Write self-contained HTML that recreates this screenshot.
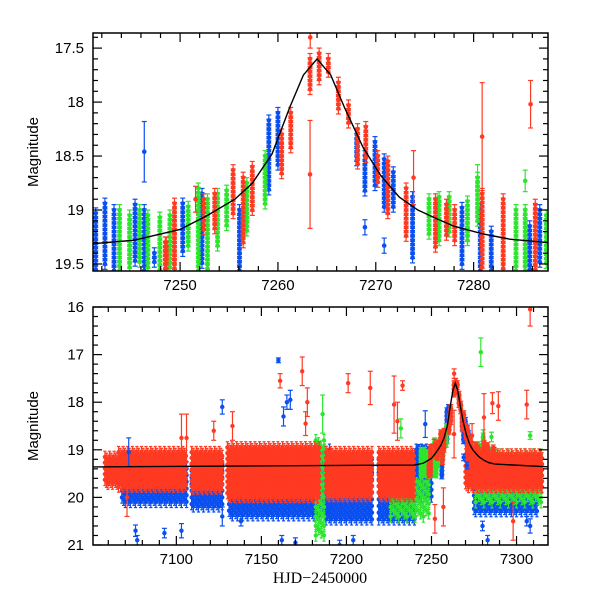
<!DOCTYPE html>
<html><head><meta charset="utf-8"><style>
html,body{margin:0;padding:0;background:#fff;}
svg{display:block;font-family:"Liberation Sans",sans-serif;}
</style></head><body>
<svg id="chart" width="600" height="600" viewBox="0 0 600 600">
<g id="top"></g>
<g id="bot"></g>
<text x="320" y="583" text-anchor="middle" font-family="Liberation Serif, serif" font-size="16">HJD−2450000</text>
</svg>
<script>
// ---- data: nightly columns (day, brightest mag, faintest mag) ----
const blueDay   = [7241.38,7242.32,7243.25,7245.4,7246.34,7247.37,7250.27,7252.24,7256.07,7259.07,7260.0,7268.05,7268.89,7269.92,7270.86,7271.79,7273.76,7278.81,7280.68,7281.8,7285.73,7286.76];
const blueHi    = [19.03,18.94,19.0,18.95,19.0,19.4,18.94,18.85,19.0,18.17,18.1,18.3,18.5,18.37,18.53,18.65,18.88,18.98,19.0,19.2,19.15,19.0];
const blueLo    = [19.56,19.52,19.56,19.5,19.56,19.5,19.4,19.5,19.56,18.84,18.6,18.55,18.84,18.78,19.0,19.0,19.45,19.5,19.56,19.56,19.56,19.5];
const greenDay  = [7243.81,7244.84,7245.87,7246.71,7247.93,7248.96,7250.83,7251.86,7252.8,7253.83,7254.76,7256.82,7258.69,7275.44,7276.47,7277.5,7279.37,7280.4,7284.33,7285.27,7287.42];
const greenHi   = [19.0,19.05,19.0,19.05,19.07,19.05,18.97,18.8,18.9,18.85,18.82,18.75,18.5,18.9,18.88,18.88,18.92,18.7,19.0,19.0,19.05];
const greenLo   = [19.56,19.56,19.5,19.56,19.56,19.56,19.36,19.56,19.56,19.36,19.15,19.2,18.95,19.25,19.3,19.2,19.3,19.1,19.56,19.56,19.5];
const redDay    = [7248.49,7248.59,7249.43,7252.42,7253.54,7255.42,7256.45,7257.38,7260.38,7261.31,7263.28,7264.21,7265.15,7266.18,7267.21,7268.14,7268.98,7270.2,7271.23,7273.1,7276.1,7277.22,7278.06,7280.87,7283.02,7286.3];
const redHi     = [19.3,19.3,18.94,18.9,18.85,18.63,18.7,18.6,18.3,18.1,17.6,17.55,17.6,17.82,18.03,18.25,18.23,18.5,18.55,18.8,18.9,18.95,19.0,18.85,18.9,18.95];
const redLo     = [19.56,19.56,19.56,19.2,19.2,19.05,19.3,19.0,18.66,18.42,17.88,17.82,17.74,18.06,18.2,18.6,18.54,18.75,19.05,19.25,19.35,19.25,19.3,19.56,19.56,19.56];
// ---- data: isolated points (day, mag, error) ----
const blueOutDay = [7246.34,7268.89,7270.86,7127,7160,7163,7165,7167,7077,7076,7093,7103,7127,7138,7162,7170,7196,7204,7308,7306,7280,7283,7072];
const blueOutMag = [18.46,19.16,19.33,18.1,17.12,18.3,18.0,17.95,20.9,20.7,20.75,20.7,20.4,20.5,20.9,20.95,21.0,20.9,20.6,20.5,20.6,20.9,19.05];
const blueOutErr = [0.28,0.07,0.07,0.15,0.05,0.2,0.15,0.2,0.1,0.12,0.1,0.15,0.2,0.1,0.1,0.1,0.1,0.1,0.15,0.1,0.1,0.1,0.3];
const greenOutDay = [7285.27,7186,7279,7308,7232,7280.4];
const greenOutMag = [18.73,18.25,16.95,18.7,18.55,18.7];
const greenOutErr = [0.1,0.4,0.3,0.08,0.2,0.12];
const redOutDay = [7263.28,7280.87,7285.82,7273.86,7251.58,7071,7103,7106,7122,7133,7161,7174,7177,7176,7201,7214,7228,7233,7230,7263.3,7289.3,7306,7308,7252,7257,7298];
const redOutMag = [18.67,18.32,18.02,18.7,18.9,20.0,18.75,18.75,18.6,18.5,17.55,17.35,18.0,18.45,17.6,17.7,18.05,17.65,18.4,17.4,18.08,18.05,16.05,20.45,20.2,20.5];
const redOutErr = [0.5,0.5,0.22,0.25,0.12,0.4,0.5,0.5,0.2,0.3,0.15,0.3,0.3,0.25,0.2,0.35,0.6,0.1,0.4,0.1,0.3,0.3,0.35,0.3,0.4,0.4];
// ---- data: season blocks for full light curve (start, end, bright, faint) ----
const blueBlkS = [7068,7109,7131,7184,7188,7219,7241,7275];
const blueBlkE = [7106,7127,7184,7190,7215,7240,7250,7312];
const blueBlkHi= [19.3,19.3,19.3,19.0,19.2,19.2,19.0,19.4];
const blueBlkLo= [20.1,20.2,20.4,20.3,20.5,20.5,20.0,20.3];
const greenBlkS = [7182,7226,7276];
const greenBlkE = [7187,7250,7315];
const greenBlkHi= [18.8,19.4,19.1];
const greenBlkLo= [20.8,20.4,20.1];
const redBlkS = [7058,7066,7109,7130,7188,7219,7270];
const redBlkE = [7066,7106,7127,7184,7215,7240,7315];
const redBlkHi= [19.15,19.05,19.05,18.95,19.05,19.05,19.1];
const redBlkLo= [19.75,19.8,19.85,20.0,20.0,20.0,19.8];
// ---- model curve ----
const modelDay = [7051,7240,7245.3,7250,7252.8,7255.6,7257.4,7259.4,7261.2,7262.6,7264.0,7265.4,7266.8,7268.7,7270.5,7272.4,7274.3,7276.2,7278.0,7280.9,7283.7,7287.4,7320];
const modelMag = [19.36,19.32,19.28,19.18,19.05,18.9,18.75,18.48,18.05,17.75,17.6,17.75,18.05,18.42,18.68,18.88,19.0,19.08,19.15,19.22,19.27,19.3,19.36];

const NS="http://www.w3.org/2000/svg";
const COL={blue:"#0a4ff0",green:"#2ee52e",red:"#ff3a22"};
function mk(tag,attrs,parent){const e=document.createElementNS(NS,tag);for(const k in attrs)e.setAttribute(k,attrs[k]);parent.appendChild(e);return e;}

function panel(g,P){
  const sx=d=>P.x0+(d-P.d0)/(P.d1-P.d0)*(P.x1-P.x0);
  const sy=m=>P.y0+(m-P.m0)/(P.m1-P.m0)*(P.y1-P.y0);
  const cp=mk("clipPath",{id:P.id+"clip"},g);
  mk("rect",{x:P.x0,y:P.y0,width:P.x1-P.x0,height:P.y1-P.y0},cp);
  const data=mk("g",{"clip-path":"url(#"+P.id+"clip)"},g);
  
  
  function point(par,d,m,e,c,cap){
    const x=sx(d),y=sy(m),y1=sy(m-e),y2=sy(m+e);
    mk("line",{x1:x,x2:x,y1:y1,y2:y2,stroke:c,"stroke-width":1.2},par);
    mk("line",{x1:x-cap,x2:x+cap,y1:y1,y2:y1,stroke:c,"stroke-width":1.2},par);
    mk("line",{x1:x-cap,x2:x+cap,y1:y2,y2:y2,stroke:c,"stroke-width":1.2},par);
    mk("circle",{cx:x,cy:y,r:P.r,fill:c},par);
  }
  function columns(name,days,hi,lo,c,step,err){
    const gg=mk("g",{},data);
    
    
    for(let i=0;i<days.length;i++){
      for(let m=hi[i];m<=lo[i]+1e-6;m+=step) point(gg,days[i],m,err,c,2.5);
    }
  }
  function blocks(name,s,e,hi,lo,c,dstep,mstep){
    const gg=mk("g",{},data);
    
    
    for(let i=0;i<s.length;i++){
      let k=0;
      for(let d=s[i];d<=e[i];d+=dstep,k++){
        for(let m=hi[i]+(k%3)*mstep/3;m<=lo[i];m+=mstep) point(gg,d,m,0.12,c,1.6);
      }
    }
  }
  function outs(name,d,m,e,c){
    const gg=mk("g",{},data);
    
    
    for(let i=0;i<d.length;i++) point(gg,d[i],m[i],e[i],c,2.5);
  }
  if(P.blocks){
    blocks("blue",blueBlkS,blueBlkE,blueBlkHi,blueBlkLo,COL.blue,1.0,0.14);
    blocks("green",greenBlkS,greenBlkE,greenBlkHi,greenBlkLo,COL.green,1.6,0.2);
  }
  columns("blue",blueDay,blueHi,blueLo,COL.blue,P.cstep,0.05);
  columns("green",greenDay,greenHi,greenLo,COL.green,P.cstep,0.05);
  if(P.blocks) blocks("red",redBlkS,redBlkE,redBlkHi,redBlkLo,COL.red,0.9,0.12);
  columns("red",redDay,redHi,redLo,COL.red,P.cstep,0.05);
  outs("blue",blueOutDay,blueOutMag,blueOutErr,COL.blue);
  outs("green",greenOutDay,greenOutMag,greenOutErr,COL.green);
  outs("red",redOutDay,redOutMag,redOutErr,COL.red);
  const pl=mk("polyline",{points:modelDay.map((d,i)=>sx(d)+","+sy(modelMag[i])).join(" "),fill:"none",stroke:"#000","stroke-width":1.4},data);
  
  
  const fr=mk("rect",{x:P.x0,y:P.y0,width:P.x1-P.x0,height:P.y1-P.y0,fill:"none",stroke:"#000","stroke-width":1.5},g);
  
  
  const ax=mk("g",{stroke:"#000","stroke-width":1.2},g);
  
  
  for(let t=Math.ceil(P.d0/P.xmin)*P.xmin;t<=P.d1;t+=P.xmin){
    const major=Math.abs(t/P.xmaj-Math.round(t/P.xmaj))<1e-6, L=major?9:5, x=sx(t);
    mk("line",{x1:x,x2:x,y1:P.y1,y2:P.y1-L},ax);
    mk("line",{x1:x,x2:x,y1:P.y0,y2:P.y0+L},ax);
    if(major){const tx=mk("text",{x:x,y:P.y1+19,"text-anchor":"middle","font-size":15,stroke:"none",fill:"#000"},g);tx.textContent=t;
      
      }
  }
  const nm=Math.round((P.m1-P.m0)/P.ymin);
  for(let k=0;k<=nm;k++){
    const t=Math.round((Math.ceil(P.m0/P.ymin-1e-6)*P.ymin+k*P.ymin)*100)/100;
    if(t>P.m1+1e-6) break;
    const major=Math.abs(t/P.ymaj-Math.round(t/P.ymaj))<1e-6, L=major?9:5, y=sy(t);
    mk("line",{x1:P.x0,x2:P.x0+L,y1:y,y2:y},ax);
    mk("line",{x1:P.x1,x2:P.x1-L,y1:y,y2:y},ax);
    if(major){const tx=mk("text",{x:P.x0-9,y:y+5,"text-anchor":"end","font-size":15,stroke:"none",fill:"#000"},g);tx.textContent=String(t);
      
      }
  }
  const yt=mk("text",{x:0,y:0,transform:`translate(${P.x0-55},${(P.y0+P.y1)/2}) rotate(-90)`,"text-anchor":"middle","font-size":15},g);
  yt.textContent="Magnitude";
  
  
}
panel(document.getElementById("top"),{id:"top",x0:93,x1:548,y0:33,y1:271,d0:7241.1,d1:7287.6,m0:17.36,m1:19.565,xmaj:10,xmin:2,ymaj:0.5,ymin:0.1,r:2.3,cstep:0.04,blocks:false});
panel(document.getElementById("bot"),{id:"bot",x0:93,x1:548,y0:307,y1:545,d0:7051,d1:7318.5,m0:16,m1:21,xmaj:50,xmin:10,ymaj:1,ymin:0.2,r:2.2,cstep:0.08,blocks:true});
</script>
</body></html>
